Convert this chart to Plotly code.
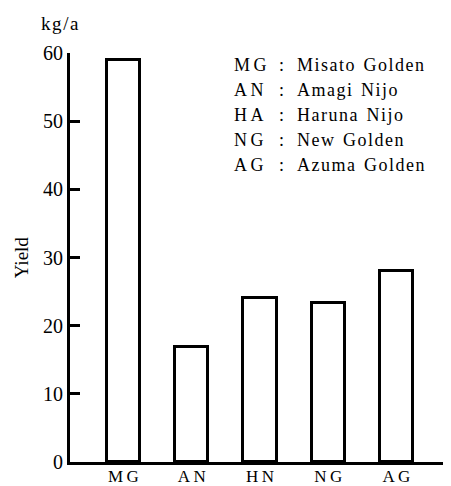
import plotly.graph_objects as go

categories = ["MG", "AN", "HN", "NG", "AG"]
yields = [59.0, 16.8, 24.0, 23.3, 28.0]
y_ticks = [0, 10, 20, 30, 40, 50, 60]
legend_abbr = ["MG", "AN", "HA", "NG", "AG"]
legend_names = ["Misato Golden", "Amagi Nijo", "Haruna Nijo", "New Golden", "Azuma Golden"]

FONT = "Liberation Serif"
OFF = 8  # page body margin
PAGE_W, PAGE_H = 451, 486
W, H = PAGE_W - OFF, PAGE_H - OFF
# plot area in page pixels
AX_L, AX_R, AX_T, AX_B = 70, 451, 52.7, 461.7
L = AX_L - OFF
R = PAGE_W - AX_R
T = AX_T - OFF
B = PAGE_H - AX_B

def spaced(s, sep="\u2009"):
    return sep.join(list(s))

fig = go.Figure()
fig.add_trace(go.Bar(
    x=list(range(len(categories))), y=yields, width=0.488,
    marker=dict(color="white", line=dict(color="black", width=3)),
    showlegend=False,
))

fig.update_layout(
    width=W, height=H,
    margin=dict(l=L, r=R, t=T, b=B, pad=0),
    plot_bgcolor="white", paper_bgcolor="white",
    font=dict(family=FONT, color="black", size=16),
    bargap=0,
)
fig.update_xaxes(
    range=[-0.784, 4.80],
    tickvals=list(range(len(categories))),
    ticktext=[spaced(c) for c in categories],
    showline=True, linecolor="black", linewidth=3,
    ticks="", showgrid=False, zeroline=False,
    tickfont=dict(family=FONT, size=17),
    ticklabelstandoff=-3,
    automargin=False,
)
fig.update_yaxes(
    range=[0, 60], tickvals=y_ticks,
    showline=True, linecolor="black", linewidth=3,
    ticks="inside", ticklen=10, tickwidth=3, tickcolor="black",
    showgrid=False, zeroline=False,
    tickfont=dict(family=FONT, size=20),
    automargin=False,
)

pw = AX_R - AX_L
ph = AX_B - AX_T
def px(xp):
    return (xp - AX_L) / pw
def py(yp):
    return (AX_B - yp) / ph

ann = []
ann.append(dict(text=spaced("kg/a", "\u200a"), x=px(59.5), y=py(23), xref="paper", yref="paper",
                showarrow=False, xanchor="center", yanchor="middle",
                font=dict(family=FONT, size=19)))
ann.append(dict(text="Yield", x=px(21), y=py(257), xref="paper", yref="paper",
                showarrow=False, xanchor="center", yanchor="middle", textangle=-90,
                font=dict(family=FONT, size=19)))
line_y = [65, 90, 115, 140, 165]
for ab, nm, ly in zip(legend_abbr, legend_names, line_y):
    ann.append(dict(text=spaced(ab), x=px(231.5), y=py(ly), xref="paper", yref="paper",
                    showarrow=False, xanchor="left", yanchor="middle",
                    font=dict(family=FONT, size=18)))
    ann.append(dict(text=":", x=px(281), y=py(ly), xref="paper", yref="paper",
                    showarrow=False, xanchor="center", yanchor="middle",
                    font=dict(family=FONT, size=18)))
    words = [spaced(w, "\u200a") for w in nm.split(" ")]
    ann.append(dict(text="\u2002".join(words), x=px(295), y=py(ly), xref="paper", yref="paper",
                    showarrow=False, xanchor="left", yanchor="middle",
                    font=dict(family=FONT, size=18)))
fig.update_layout(annotations=ann)

fig.write_html("out.html")
